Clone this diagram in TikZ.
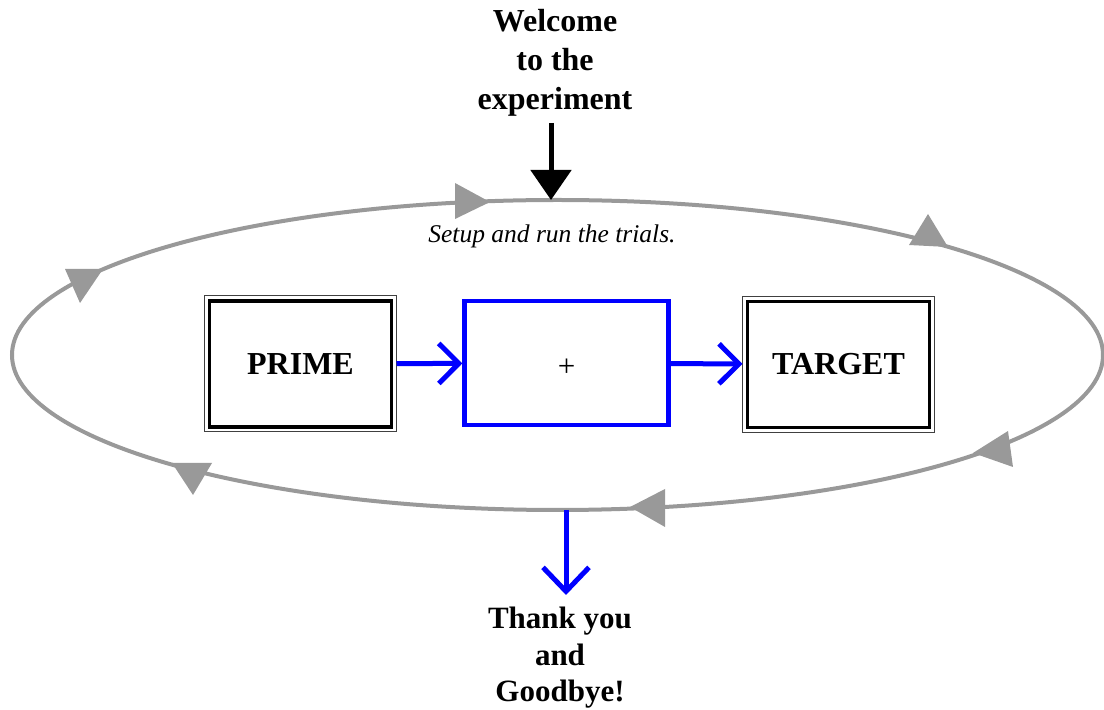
\documentclass[tikz,border=0pt]{standalone}
\usepackage{fontspec}
\setmainfont{Liberation Serif}
\usetikzlibrary{arrows.meta}
\definecolor{loopgray}{RGB}{153,153,153}
\definecolor{pureblue}{RGB}{0,0,255}
\tikzset{
    stimulus/.style ={
        shape=rectangle,
        draw=black,
        line width=3.5pt,
        outer sep=5pt,
        minimum width=182pt,
        minimum height=126pt,
        font=\fontsize{32}{38}\selectfont\bfseries
    },
    fixbox/.style ={
        shape=rectangle,
        draw=pureblue,
        line width=4.3pt,
        minimum width=204pt,
        minimum height=124pt,
        text height=28pt,
        font=\fontsize{31}{34}\selectfont
    },
    message/.style ={
        align=center,
        inner xsep=0pt,
        font=\fontsize{31}{36.5}\selectfont\bfseries
    },
    note/.style ={
        inner sep=0pt,
        font=\fontsize{25.5}{30}\selectfont\itshape
    },
    loopline/.style ={
        draw=loopgray,
        line width=4pt
    },
    loophead/.style ={
        fill=loopgray
    },
    frameline/.style ={
        draw=black!75,
        line width=1pt
    },
    flow/.style ={
        draw=pureblue,
        line width=5pt,
        -{Straight Barb[length=20pt,width=40pt]}
    },
    startarrow/.style ={
        draw=black,
        line width=5pt,
        -{Triangle[length=30pt,width=40pt]}
    }
}

\begin{document}
\begin{tikzpicture}[x=1pt,y=1pt]
    \useasboundingbox (0,0) rectangle (1104,710);

    % the trial loop
    \draw[loopline] (557.5,355) ellipse [x radius=545.5, y radius=155];
    \coordinate (looptop) at (551,510);
    \coordinate (loopbottom) at (566,200);
    \fill[loophead] (455,527) -- (490,508) -- (455,491) -- cycle;
    \fill[loophead] (928,496) -- (909,465) -- (948,463) -- cycle;
    \fill[loophead] (1008,279) -- (973,257) -- (1013,243) -- cycle;
    \fill[loophead] (665,221) -- (630,203) -- (665,183) -- cycle;
    \fill[loophead] (172,247) -- (212,247) -- (193,215) -- cycle;
    \fill[loophead] (65,441) -- (103,441) -- (80,407) -- cycle;

    \node[note, anchor=base] (setup) at (552,467) {Setup and run the trials.};

    % prime, fixation, target
    \node[stimulus] (prime) at (300.5,346) {PRIME};
    \draw[frameline] (prime.north west) rectangle (prime.south east);
    \node[fixbox] (fixation) at (566.5,347) {+};
    \node[stimulus] (target) at (838.5,345.5) {TARGET};
    \draw[frameline] (target.north west) rectangle (target.south east);
    \draw[flow] (prime) -- (fixation);
    \draw[flow] (fixation) -- (target);

    % start and end
    \node[message, anchor=south, inner ysep=6pt, font=\fontsize{32}{39}\selectfont\bfseries] (welcome) at (555,587) {Welcome\\to the\\experiment};
    \node[message, anchor=north, inner ysep=12pt] (bye) at (560,115) {Thank you\\and\\Goodbye!};
    \draw[startarrow] (welcome.south -| looptop) -- (looptop);
    \draw[flow, -{Straight Barb[length=24pt,width=46pt]}] (loopbottom) -- (loopbottom |- bye.north);
\end{tikzpicture}
\end{document}
